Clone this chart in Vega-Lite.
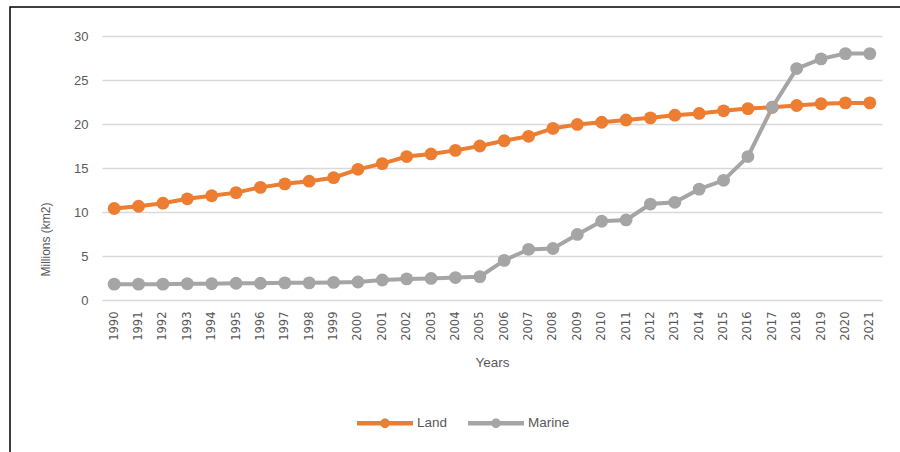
{
  "$schema": "https://vega.github.io/schema/vega-lite/v6.json",
  "autosize": "none",
  "padding": {"left": 10, "top": 7, "right": 0, "bottom": 0},
  "width": 890,
  "height": 445,
  "background": "white",
  "config": {
    "font": "Liberation Sans",
    "view": {"stroke": "#000000", "strokeWidth": 1.5, "strokeDash": [890, 1335, 445]}
  },
  "data": {
    "values": [
      {"year": "1990", "series": "Land", "value": 10.4},
      {"year": "1991", "series": "Land", "value": 10.65},
      {"year": "1992", "series": "Land", "value": 11.0},
      {"year": "1993", "series": "Land", "value": 11.5},
      {"year": "1994", "series": "Land", "value": 11.85},
      {"year": "1995", "series": "Land", "value": 12.2},
      {"year": "1996", "series": "Land", "value": 12.8},
      {"year": "1997", "series": "Land", "value": 13.2},
      {"year": "1998", "series": "Land", "value": 13.5},
      {"year": "1999", "series": "Land", "value": 13.9},
      {"year": "2000", "series": "Land", "value": 14.85},
      {"year": "2001", "series": "Land", "value": 15.5},
      {"year": "2002", "series": "Land", "value": 16.3},
      {"year": "2003", "series": "Land", "value": 16.6},
      {"year": "2004", "series": "Land", "value": 17.0},
      {"year": "2005", "series": "Land", "value": 17.5},
      {"year": "2006", "series": "Land", "value": 18.1},
      {"year": "2007", "series": "Land", "value": 18.6},
      {"year": "2008", "series": "Land", "value": 19.5},
      {"year": "2009", "series": "Land", "value": 19.95},
      {"year": "2010", "series": "Land", "value": 20.2},
      {"year": "2011", "series": "Land", "value": 20.45},
      {"year": "2012", "series": "Land", "value": 20.7},
      {"year": "2013", "series": "Land", "value": 21.0},
      {"year": "2014", "series": "Land", "value": 21.2},
      {"year": "2015", "series": "Land", "value": 21.5},
      {"year": "2016", "series": "Land", "value": 21.75},
      {"year": "2017", "series": "Land", "value": 21.9},
      {"year": "2018", "series": "Land", "value": 22.1},
      {"year": "2019", "series": "Land", "value": 22.3},
      {"year": "2020", "series": "Land", "value": 22.4},
      {"year": "2021", "series": "Land", "value": 22.4},
      {"year": "1990", "series": "Marine", "value": 1.8},
      {"year": "1991", "series": "Marine", "value": 1.8},
      {"year": "1992", "series": "Marine", "value": 1.8},
      {"year": "1993", "series": "Marine", "value": 1.85},
      {"year": "1994", "series": "Marine", "value": 1.85},
      {"year": "1995", "series": "Marine", "value": 1.9},
      {"year": "1996", "series": "Marine", "value": 1.9},
      {"year": "1997", "series": "Marine", "value": 1.95},
      {"year": "1998", "series": "Marine", "value": 1.95},
      {"year": "1999", "series": "Marine", "value": 2.0},
      {"year": "2000", "series": "Marine", "value": 2.05},
      {"year": "2001", "series": "Marine", "value": 2.27},
      {"year": "2002", "series": "Marine", "value": 2.4},
      {"year": "2003", "series": "Marine", "value": 2.45},
      {"year": "2004", "series": "Marine", "value": 2.55},
      {"year": "2005", "series": "Marine", "value": 2.65},
      {"year": "2006", "series": "Marine", "value": 4.5},
      {"year": "2007", "series": "Marine", "value": 5.75},
      {"year": "2008", "series": "Marine", "value": 5.85},
      {"year": "2009", "series": "Marine", "value": 7.45},
      {"year": "2010", "series": "Marine", "value": 8.95},
      {"year": "2011", "series": "Marine", "value": 9.1},
      {"year": "2012", "series": "Marine", "value": 10.9},
      {"year": "2013", "series": "Marine", "value": 11.1},
      {"year": "2014", "series": "Marine", "value": 12.6},
      {"year": "2015", "series": "Marine", "value": 13.6},
      {"year": "2016", "series": "Marine", "value": 16.3},
      {"year": "2017", "series": "Marine", "value": 21.9},
      {"year": "2018", "series": "Marine", "value": 26.3},
      {"year": "2019", "series": "Marine", "value": 27.4},
      {"year": "2020", "series": "Marine", "value": 28.0},
      {"year": "2021", "series": "Marine", "value": 28.0}
    ]
  },
  "mark": {"type": "line", "strokeWidth": 4, "point": {"filled": true, "size": 165, "opacity": 1}},
  "encoding": {
    "x": {
      "field": "year",
      "type": "ordinal",
      "scale": {"type": "point", "range": [92, 872], "padding": 0.5},
      "axis": {
        "title": "Years",
        "orient": "bottom",
        "offset": -152,
        "domain": false,
        "ticks": false,
        "grid": false,
        "labelAngle": -90,
        "labelPadding": 11,
        "labelFont": "DejaVu Sans",
        "labelFontSize": 11.5,
        "labelColor": "#595959",
        "titleFontSize": 13.5,
        "titleFontWeight": "normal",
        "titleColor": "#595959",
        "titleBaseline": "middle",
        "titleY": 62
      }
    },
    "y": {
      "field": "value",
      "type": "quantitative",
      "scale": {"domain": [0, 30], "range": [293, 29], "nice": false},
      "axis": {
        "title": "Millions (km2)",
        "orient": "left",
        "offset": -92,
        "values": [0, 5, 10, 15, 20, 25, 30],
        "domain": false,
        "ticks": false,
        "grid": true,
        "gridColor": "#d9d9d9",
        "gridWidth": 1.3,
        "labelPadding": 14,
        "labelFontSize": 13,
        "labelColor": "#595959",
        "titleFontSize": 12,
        "titleFontWeight": "normal",
        "titleColor": "#595959",
        "titleAngle": -90,
        "titleAlign": "center",
        "titleBaseline": "middle",
        "titleX": -57,
        "titleY": 232
      }
    },
    "color": {
      "field": "series",
      "type": "nominal",
      "scale": {"domain": ["Land", "Marine"], "range": ["#ED7D31", "#A5A5A5"]},
      "legend": {
        "title": null,
        "orient": "none",
        "direction": "horizontal",
        "legendX": 347,
        "legendY": 388,
        "padding": 0,
        "symbolType": "M-1,-0.08L1,-0.08L1,0.08L-1,0.08Z M-0.17,0A0.17,0.17 0 1,1 0.17,0A0.17,0.17 0 1,1 -0.17,0Z",
        "symbolSize": 3136,
        "symbolStrokeWidth": 0,
        "labelFontSize": 13.5,
        "labelColor": "#595959",
        "labelOffset": 4,
        "columnPadding": 20,
        "encode": {
          "symbols": {
            "update": {
              "fill": {"scale": "color", "field": "value"},
              "strokeWidth": {"value": 0},
              "opacity": {"value": 1}
            }
          }
        }
      }
    }
  }
}
